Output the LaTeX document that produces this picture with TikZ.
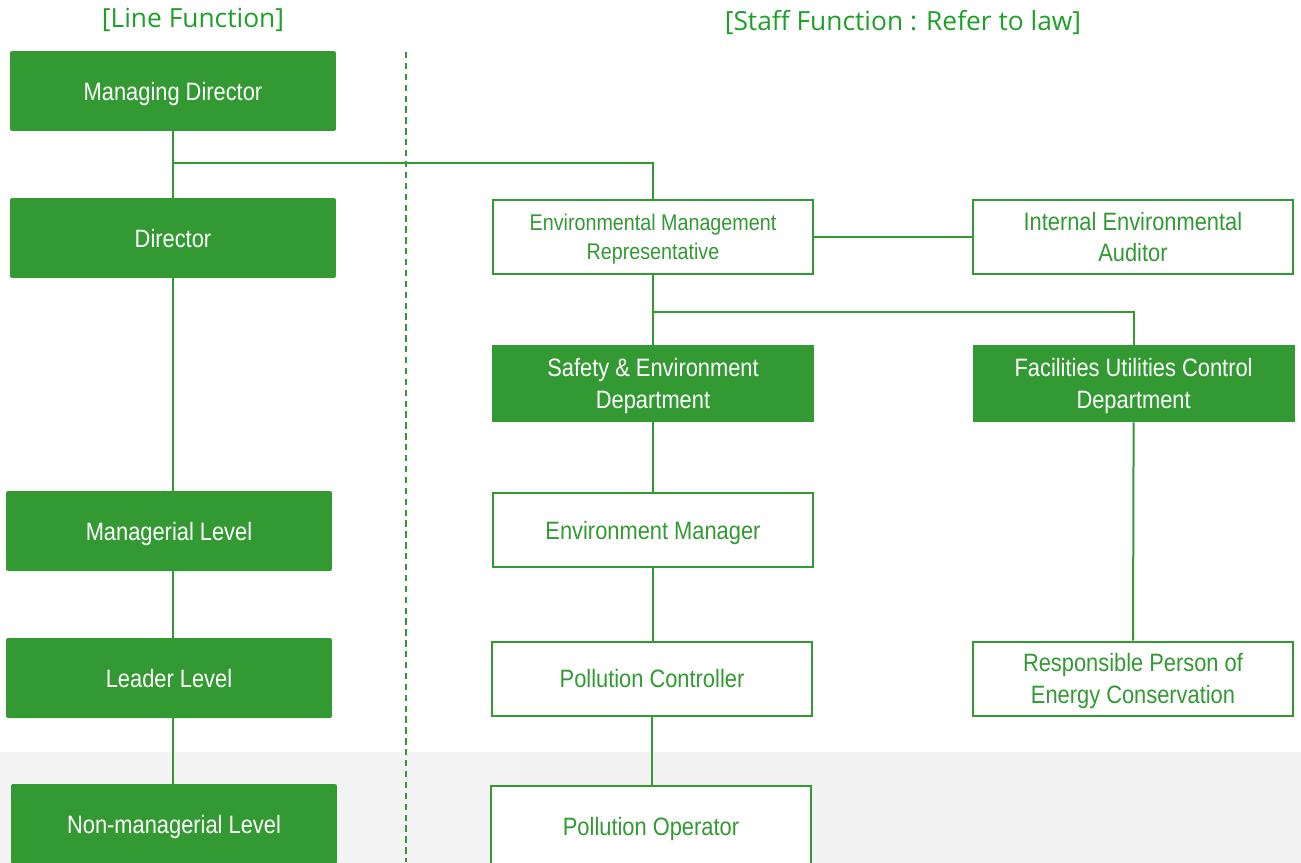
\documentclass[tikz,border=0pt]{standalone}
\usepackage{fontspec}
\setmainfont{Liberation Sans}
\newfontfamily\boxfont[FakeStretch=0.87]{Liberation Sans}
\newfontfamily\headfont{Open Sans}
\usepackage{tikz}
\usetikzlibrary{positioning, calc}
\def\boxsep{3.16cm}
\definecolor{unit}{RGB}{51, 153, 51}
\definecolor{title}{RGB}{30, 160, 40}
\tikzstyle{connector} = [unit, -, line width=0.04cm]
\tikzstyle{divider} = [unit, dash pattern=on 3.6pt off 2.6pt, line width=0.034cm]
\newcommand{\tikzfillnode}[1]{\node[
  draw=none, rectangle, rounded corners=1.2pt, minimum width=6.52cm, minimum height=1.6cm, fill=#1, text=white, inner sep=0,
  text depth=0pt, align=center, font=\boxfont\fontsize{14.3pt}{18pt}\selectfont
]}
\newcommand{\tikzlinenode}[1]{\node[
  draw=#1, line width=0.04cm, rectangle, minimum width=6.4cm, minimum height=1.48cm, fill=white, text=#1, inner sep=0,
  text depth=0pt, align=center, font=\boxfont\fontsize{14.3pt}{18pt}\selectfont
]}
\newcommand{\tikzheadnode}[1]{\node[
  draw=none, text=#1, inner sep=0, font=\headfont\fontsize{15pt}{18pt}\selectfont
]}

\begin{document}
\begin{tikzpicture}[x=0.02cm, y=-0.02cm]
    \useasboundingbox (0,0) rectangle (1301,862);

    % background band
    \shade[left color=gray!9, middle color=gray!3, right color=gray!11] (0,752) rectangle (1301,862);

    % titles
    \tikzheadnode{title} at (193, 20)  (linehead)  {[Line Function]};
    \tikzheadnode{title} at (903, 23)  (staffhead) {[Staff Function : Refer to law]};

    % line function
    \tikzfillnode{unit} at (173, 91)  (md)     {Managing Director};
    \tikzfillnode{unit} at (173, 238) (dir)    {Director};
    \tikzfillnode{unit} at (169, 531) (mgr)    {Managerial Level};
    \tikzfillnode{unit} at (169, 678) (ldr)    {Leader Level};
    \tikzfillnode{unit} at (174, 824) (nonmgr) {Non-managerial Level};

    % staff function
    \tikzlinenode{unit} [font=\boxfont\fontsize{12.9pt}{16.5pt}\selectfont] at (653, 237) (emr) {Environmental Management\\Representative};
    \tikzlinenode{unit} [right = \boxsep of emr] (iea) {Internal Environmental\\Auditor};
    \tikzfillnode{unit} [rounded corners=0pt, minimum width=6.44cm, minimum height=1.54cm] at (653, 383.5) (sed) {Safety \& Environment\\Department};
    \tikzfillnode{unit} [rounded corners=0pt, minimum width=6.44cm, minimum height=1.54cm, right = \boxsep of sed] (fuc) {Facilities Utilities Control\\Department};
    \tikzlinenode{unit} at (653, 530)    (envm) {Environment Manager};
    \tikzlinenode{unit} at (652, 678.5)  (pctl) {Pollution Controller};
    \tikzlinenode{unit} at (1133, 678.5) (rpec) {Responsible Person of\\Energy Conservation};
    \tikzlinenode{unit} [minimum height=1.6cm] at (651, 826) (pop) {Pollution Operator};

    % divider
    \coordinate (divtop) at (406, 52);
    \coordinate (divbot) at (406, 862);
    \draw[divider] (divtop) -- (divbot);

    % connectors
    \coordinate (mdsplit)  at (173, 163);
    \coordinate (emrsplit) at (653, 312);
    \draw[connector] (md.south)  -- (dir.north);
    \draw[connector] (mdsplit)   -| (emr.north);
    \draw[connector] (dir.south) -- (dir.south |- mgr.north);
    \draw[connector] (mgr.south -| dir.south) -- (ldr.north -| dir.south);
    \draw[connector] (ldr.south -| dir.south) -- (nonmgr.north -| dir.south);
    \draw[connector] (emr.east)   -- (iea.west);
    \draw[connector] (emr.south)  -- (sed.north);
    \draw[connector] (emrsplit)   -| (fuc.north);
    \draw[connector] (sed.south)  -- (envm.north);
    \draw[connector] (envm.south) -- (pctl.north -| envm.south);
    \draw[connector] (pctl.south) -- (pop.north -| pctl.south);
    \draw[connector] (fuc.south)  -- (rpec.north);
\end{tikzpicture}
\end{document}
